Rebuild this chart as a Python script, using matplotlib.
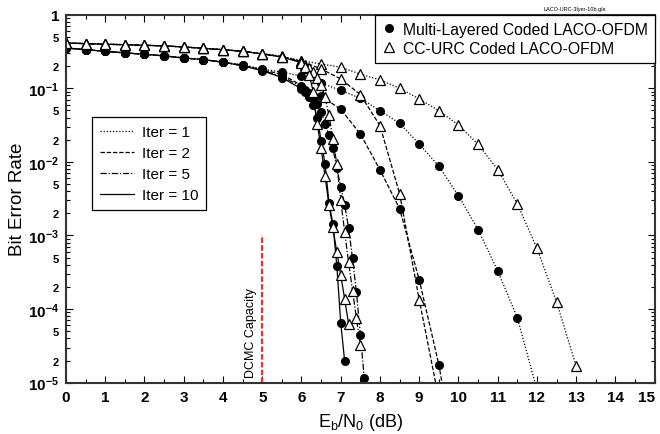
import math
import matplotlib
matplotlib.use('Agg')
import matplotlib.pyplot as plt
from matplotlib.lines import Line2D
from matplotlib.ticker import FixedLocator, FuncFormatter, MultipleLocator

plt.rcParams['font.family'] = ['Liberation Sans', 'DejaVu Sans']
plt.rcParams['mathtext.fontset'] = 'custom'
plt.rcParams['mathtext.rm'] = 'Liberation Sans'
plt.rcParams['mathtext.bf'] = 'Liberation Sans:bold'
plt.rcParams['mathtext.it'] = 'Liberation Sans:italic'

# Eb/N0 grid shared by every curve at low SNR
x_low = [0, 0.5, 1, 1.5, 2, 2.5, 3, 3.5, 4, 4.5, 5, 5.5]

# Multi-Layered Coded LACO-OFDM (circles)
ml_x1 = x_low + [6, 6.5, 7, 7.5, 8, 8.5, 9, 9.5, 10, 10.5, 11, 11.5, 12]
ml_ber1 = [0.353, 0.334, 0.318, 0.302, 0.29, 0.275, 0.258, 0.245, 0.226, 0.209, 0.183, 0.166,
           0.146, 0.117, 0.094, 0.073, 0.0496, 0.0334, 0.0175, 0.0087, 0.00347, 0.0012,
           3.3e-4, 7.6e-5, 8e-6]
ml_x2 = x_low + [6, 6.5, 7, 7.5, 8, 8.5, 9, 9.5, 10]
ml_ber2 = [0.353, 0.334, 0.318, 0.302, 0.29, 0.275, 0.258, 0.245, 0.226, 0.205, 0.178, 0.155,
           0.109, 0.078, 0.0519, 0.0239, 0.0078, 0.0023, 2.5e-4, 1.76e-5, 5e-7]
ml_x5 = x_low + [6.0, 6.1, 6.2, 6.3, 6.4, 6.5, 6.6, 6.7, 6.8, 6.9, 7.0, 7.1, 7.2, 7.3, 7.4, 7.5, 7.6]
ml_ber5 = [0.353, 0.334, 0.318, 0.302, 0.29, 0.275, 0.258, 0.245, 0.226, 0.203, 0.175, 0.145,
           0.105, 0.095, 0.085, 0.074, 0.062, 0.048, 0.033, 0.023, 0.0153, 8.2e-3, 4.6e-3,
           2.6e-3, 1.26e-3, 4.9e-4, 1.7e-4, 4.5e-5, 1.15e-5]
ml_x10 = x_low + [6.0, 6.1, 6.2, 6.3, 6.4, 6.5, 6.6, 6.7, 6.8, 6.9, 7.0, 7.1]
ml_ber10 = [0.353, 0.334, 0.318, 0.302, 0.29, 0.275, 0.258, 0.245, 0.226, 0.202, 0.173, 0.14,
            0.098, 0.088, 0.076, 0.06, 0.04, 0.0194, 9.4e-3, 2.8e-3, 1.43e-3, 3.9e-4, 6.5e-5,
            1.96e-5]

# CC-URC Coded LACO-OFDM (triangles)
cc_x1 = x_low + [6, 6.5, 7, 7.5, 8, 8.5, 9, 9.5, 10, 10.5, 11, 11.5, 12, 12.5, 13]
cc_ber1 = [0.412, 0.404, 0.396, 0.391, 0.384, 0.376, 0.364, 0.349, 0.334, 0.318, 0.295, 0.272,
           0.237, 0.214, 0.193, 0.156, 0.13, 0.1, 0.0716, 0.0496, 0.0317, 0.0173, 0.00784,
           0.00268, 6.7e-4, 1.24e-4, 1.67e-5]
cc_x2 = x_low + [6, 6.5, 7, 7.5, 8, 8.5, 9, 9.5]
cc_ber2 = [0.412, 0.404, 0.396, 0.391, 0.384, 0.376, 0.364, 0.349, 0.334, 0.318, 0.294, 0.27,
           0.232, 0.183, 0.134, 0.082, 0.031, 3.7e-3, 1.34e-4, 6e-6]
cc_x5 = x_low + [6.0, 6.1, 6.2, 6.3, 6.4, 6.5, 6.6, 6.7, 6.8, 6.9, 7.0, 7.1, 7.2, 7.3, 7.4, 7.5]
cc_ber5 = [0.412, 0.404, 0.396, 0.391, 0.384, 0.376, 0.364, 0.349, 0.334, 0.318, 0.293, 0.268,
           0.228, 0.21, 0.19, 0.168, 0.14, 0.11, 0.076, 0.043, 0.0204, 9.4e-3, 3.0e-3, 1.12e-3,
           4.3e-4, 1.78e-4, 7.5e-5, 3.2e-5]
cc_x10 = x_low + [6.0, 6.1, 6.2, 6.3, 6.4, 6.5, 6.6, 6.7, 6.8, 6.9, 7.0, 7.1, 7.2]
cc_ber10 = [0.412, 0.404, 0.396, 0.391, 0.384, 0.376, 0.364, 0.349, 0.334, 0.318, 0.292, 0.266,
            0.222, 0.195, 0.15, 0.09, 0.033, 0.0153, 6.4e-3, 2.6e-3, 1.29e-3, 5.9e-4, 2.9e-4,
            1.37e-4, 6.3e-5]

iter_labels = ['Iter = 1', 'Iter = 2', 'Iter = 5', 'Iter = 10']
iter_styles = [(0, (1, 1.5)), (0, (3.5, 1.5)), (0, (5, 1.5, 1, 1.5)), '-']
x_ticks = list(range(0, 16))

fig = plt.figure(figsize=(6.6, 4.35), dpi=100)
ax = fig.add_axes([0.1, 0.118, 0.892, 0.846])

ml_curves = [(ml_x1, ml_ber1), (ml_x2, ml_ber2), (ml_x5, ml_ber5), (ml_x10, ml_ber10)]
cc_curves = [(cc_x1, cc_ber1), (cc_x2, cc_ber2), (cc_x5, cc_ber5), (cc_x10, cc_ber10)]

for (x, y), ls in zip(ml_curves, iter_styles):
    ax.plot(x, y, color='black', linestyle=ls, lw=0.9, marker='o', ms=5.5,
            mfc='black', mec='black')
for (x, y), ls in zip(cc_curves, iter_styles):
    ax.plot(x, y, color='black', linestyle=ls, lw=0.9, marker='^', ms=7,
            mfc='white', mec='black', mew=0.9)

# DCMC capacity marker
ax.plot([5, 5], [1e-5, 1e-3], color='#ff2a2a', linestyle=(0, (2.5, 1)), lw=1.6)
ax.text(4.72, 1.2e-5, 'DCMC Capacity', rotation=90, ha='center', va='bottom', fontsize=9)

ax.set_yscale('log')
ax.set_xlim(0, 15)
ax.set_ylim(1e-5, 1)

ax.set_xticks(x_ticks, [str(t) for t in x_ticks], fontweight='bold')
ax.xaxis.set_minor_locator(MultipleLocator(0.5))

majors = [1e-5, 1e-4, 1e-3, 1e-2, 1e-1, 1]
ax.yaxis.set_major_locator(FixedLocator(majors))
ax.yaxis.set_major_formatter(FuncFormatter(
    lambda v, p: '1' if v >= 1 else r'$\mathbf{10^{%d}}$' % round(math.log10(v))))
minors = [m * 10.0 ** e for e in range(-5, 0) for m in range(2, 10)]
ax.yaxis.set_minor_locator(FixedLocator(minors))


def minor_fmt(v, p):
    lead = round(v / 10 ** math.floor(math.log10(v) + 1e-9))
    return str(lead) if lead in (2, 5) else ''


ax.yaxis.set_minor_formatter(FuncFormatter(minor_fmt))

ax.tick_params(which='both', direction='in', top=True, right=True, width=0.8)
ax.tick_params(which='major', length=5, labelsize=11, pad=5)
ax.tick_params(which='minor', length=3, labelsize=8, pad=5)
for sp in ax.spines.values():
    sp.set_linewidth(1.5)
    sp.set_color('#333333')

ax.set_xlabel(r'E$_\mathrm{b}$/N$_\mathrm{0}$ (dB)', fontsize=13, labelpad=5)
ax.set_ylabel('Bit Error Rate', fontsize=13.5, labelpad=1)

# legends
sys_handles = [Line2D([], [], ls='none', marker='o', ms=5.5, mfc='black', mec='black'),
               Line2D([], [], ls='none', marker='^', ms=7, mfc='white', mec='black', mew=0.9)]
leg1 = ax.legend(sys_handles, ['Multi-Layered Coded LACO-OFDM', 'CC-URC Coded LACO-OFDM'],
                 loc='upper right', bbox_to_anchor=(1, 1), borderaxespad=0, fontsize=11.3,
                 handlelength=0.8, handletextpad=0.5, labelspacing=0.25, fancybox=False,
                 edgecolor='black', framealpha=1, borderpad=0.45)
leg1.get_frame().set_linewidth(0.9)
ax.add_artist(leg1)

it_handles = [Line2D([], [], color='black', lw=0.9, ls=s) for s in iter_styles]
leg2 = ax.legend(it_handles, iter_labels, loc='upper left', bbox_to_anchor=(0.044, 0.722),
                 borderaxespad=0, fontsize=11, handlelength=2.2, handletextpad=0.5,
                 labelspacing=0.45, fancybox=False, edgecolor='black', framealpha=1,
                 borderpad=0.55)
leg2.get_frame().set_linewidth(0.9)

fig.text(575 / 660, 1 - 9 / 435, 'LACO-URC-3lyer-10b.gle', fontsize=4, ha='center', va='center')

# bold y tick labels; keep the "15" label inside the figure
for lab in ax.get_yticklabels() + ax.get_yticklabels(minor=True):
    lab.set_fontweight('bold')
for lab in ax.get_xticklabels():
    if lab.get_text() == '15':
        lab.set_horizontalalignment('right')
        lab.set_x(15.1)

fig.savefig('out.png', dpi=100)
